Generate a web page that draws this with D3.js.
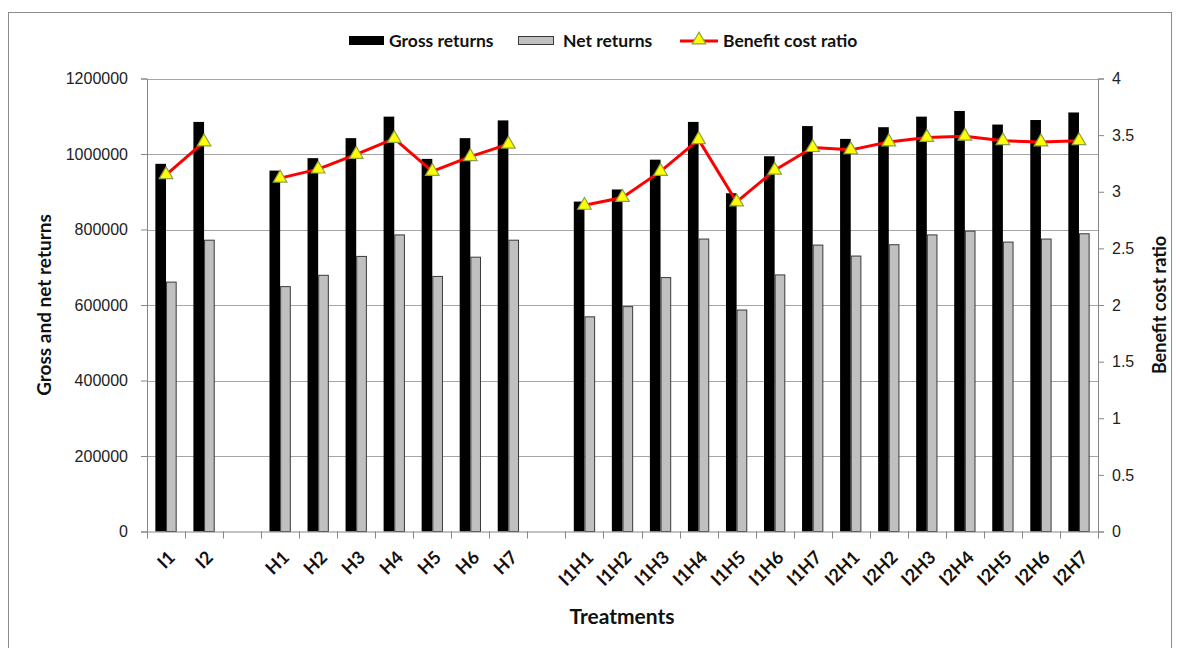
<!DOCTYPE html>
<html>
<head>
<meta charset="utf-8">
<script src="https://cdn.jsdelivr.net/npm/d3@7"></script>
<style>
  body { margin: 0; background: #fff; }
  svg { display: block; font-family: Lato, "Open Sans", sans-serif; }
</style>
</head>
<body>
<svg id="chart" width="1180" height="648"></svg>
<script>
// Categories ("" = empty gap slot)
const categories = ["I1","I2","","H1","H2","H3","H4","H5","H6","H7","",
  "I1H1","I1H2","I1H3","I1H4","I1H5","I1H6","I1H7",
  "I2H1","I2H2","I2H3","I2H4","I2H5","I2H6","I2H7"];
const grossReturns = [974000,1085000,null,956000,989000,1042000,1099000,987000,1042000,1089000,null,
  874000,906000,985000,1085000,896000,994000,1074000,
  1040000,1071000,1099000,1114000,1078000,1090000,1110000];
const netReturns = [662000,773000,null,650000,680000,730000,787000,677000,728000,773000,null,
  570000,597000,674000,776000,588000,681000,760000,
  731000,761000,787000,797000,768000,776000,790000];
const benefitCost = [3.15,3.44,null,3.12,3.20,3.33,3.47,3.18,3.31,3.42,null,
  2.88,2.95,3.18,3.46,2.91,3.19,3.39,
  3.37,3.44,3.48,3.49,3.45,3.44,3.45];
const leftTicks = [0,200000,400000,600000,800000,1000000,1200000];
const rightTicks = [0,0.5,1,1.5,2,2.5,3,3.5,4];
const seriesNames = ["Gross returns","Net returns","Benefit cost ratio"];

const svg = d3.select("#chart");
const L = 147, R = 1098, T = 78.5, B = 531.5;

// outer frame
svg.append("rect").attr("x",8.5).attr("y",12.5).attr("width",1163).attr("height",660)
  .attr("fill","none").attr("stroke","#8c8c8c").attr("stroke-width",1);

const x = d3.scaleBand().domain(d3.range(categories.length)).range([L,R]).paddingInner(0).paddingOuter(0);
const yL = d3.scaleLinear().domain([0,1200000]).range([B,T]);
const yR = d3.scaleLinear().domain([0,4]).range([B,T]);

const bw = x.bandwidth();
const barW = bw * 0.28;

// gridlines
svg.append("g").selectAll("line").data(leftTicks.filter(d=>d>0)).join("line")
  .attr("x1",L).attr("x2",R).attr("y1",d=>Math.round(yL(d))+0.5).attr("y2",d=>Math.round(yL(d))+0.5)
  .attr("stroke","#a6a6a6").attr("stroke-width",1);

// left axis
const axL = svg.append("g").attr("transform",`translate(${L},0)`)
  .call(d3.axisLeft(yL).tickValues(leftTicks).tickSize(6).tickPadding(13).tickFormat(d3.format("d")));
axL.select(".domain").attr("stroke","#868686");
axL.selectAll(".tick line").attr("stroke","#868686");
axL.selectAll("text").attr("font-size",16).attr("fill","#222");

// right axis
const axR = svg.append("g").attr("transform",`translate(${R},0)`)
  .call(d3.axisRight(yR).tickValues(rightTicks).tickSize(6).tickPadding(8).tickFormat(d=>String(d)));
axR.select(".domain").attr("stroke","#868686");
axR.selectAll(".tick line").attr("stroke","#868686");
axR.selectAll("text").attr("font-size",16).attr("fill","#222");

// bars
const idx = d3.range(categories.length);
svg.append("g").selectAll("rect").data(idx.filter(i=>grossReturns[i]!=null)).join("rect")
  .attr("x",i=>x(i)+bw/2-barW).attr("width",barW)
  .attr("y",i=>yL(grossReturns[i])).attr("height",i=>B-yL(grossReturns[i]))
  .attr("fill","#000");
svg.append("g").selectAll("rect").data(idx.filter(i=>netReturns[i]!=null)).join("rect")
  .attr("x",i=>x(i)+bw/2+0.5).attr("width",barW-1)
  .attr("y",i=>yL(netReturns[i])+0.5).attr("height",i=>B-yL(netReturns[i])-0.5)
  .attr("fill","#c0c0c0").attr("stroke","#3a3a3a").attr("stroke-width",1);

// bottom axis line and ticks
svg.append("line").attr("x1",L).attr("x2",R).attr("y1",B+0.5).attr("y2",B+0.5).attr("stroke","#868686");
svg.append("g").selectAll("line").data(d3.range(categories.length+1)).join("line")
  .attr("x1",i=>Math.round(L+i*bw)+0.5).attr("x2",i=>Math.round(L+i*bw)+0.5)
  .attr("y1",B).attr("y2",B+7).attr("stroke","#868686");

// x labels
svg.append("g").selectAll("text").data(idx.filter(i=>categories[i]!=="")).join("text")
  .attr("transform",i=>`translate(${x(i)+bw/2+1},${B+18}) rotate(-45)`)
  .attr("text-anchor","end").attr("dy","0.72em")
  .attr("font-size",18).attr("font-weight","bold").attr("fill","#111")
  .text(i=>categories[i]);

// BCR line
const line = d3.line().defined(i=>benefitCost[i]!=null)
  .x(i=>x(i)+bw/2).y(i=>yR(benefitCost[i]));
svg.append("path").datum(idx).attr("d",line)
  .attr("fill","none").attr("stroke","#ff0000").attr("stroke-width",3).attr("stroke-linejoin","round");
const tri = d3.symbol().type(d3.symbolTriangle).size(80);
svg.append("g").selectAll("path").data(idx.filter(i=>benefitCost[i]!=null)).join("path")
  .attr("transform",i=>`translate(${x(i)+bw/2},${yR(benefitCost[i])})`)
  .attr("d",tri()).attr("fill","#ffff00").attr("stroke","#8ea04a").attr("stroke-width",1.2);

// axis titles
svg.append("text").attr("transform","translate(51,305) rotate(-90)").attr("text-anchor","middle")
  .attr("font-size",19).attr("font-weight","bold").attr("fill","#111").text("Gross and net returns");
svg.append("text").attr("transform","translate(1166,305) rotate(-90)").attr("text-anchor","middle")
  .attr("font-size",18).attr("font-weight","bold").attr("fill","#111").text("Benefit cost ratio");
svg.append("text").attr("x",622).attr("y",624).attr("text-anchor","middle")
  .attr("font-size",21).attr("font-weight","bold").attr("fill","#111").text("Treatments");

// legend
const lg = svg.append("g").attr("font-size",17.5).attr("font-weight","bold").attr("fill","#111");
lg.append("rect").attr("x",349).attr("y",36).attr("width",35).attr("height",9).attr("fill","#000");
lg.append("text").attr("x",389).attr("y",47).text(seriesNames[0]);
lg.append("rect").attr("x",518.5).attr("y",36.5).attr("width",35).attr("height",8).attr("fill","#c0c0c0").attr("stroke","#3a3a3a");
lg.append("text").attr("x",563).attr("y",47).text(seriesNames[1]);
lg.append("line").attr("x1",680).attr("x2",718).attr("y1",41).attr("y2",41).attr("stroke","#ff0000").attr("stroke-width",3);
lg.append("path").attr("transform","translate(699,40)").attr("d",tri()).attr("fill","#ffff00").attr("stroke","#8ea04a").attr("stroke-width",1.2);
lg.append("text").attr("x",723).attr("y",47).text(seriesNames[2]);
</script>
</body>
</html>
